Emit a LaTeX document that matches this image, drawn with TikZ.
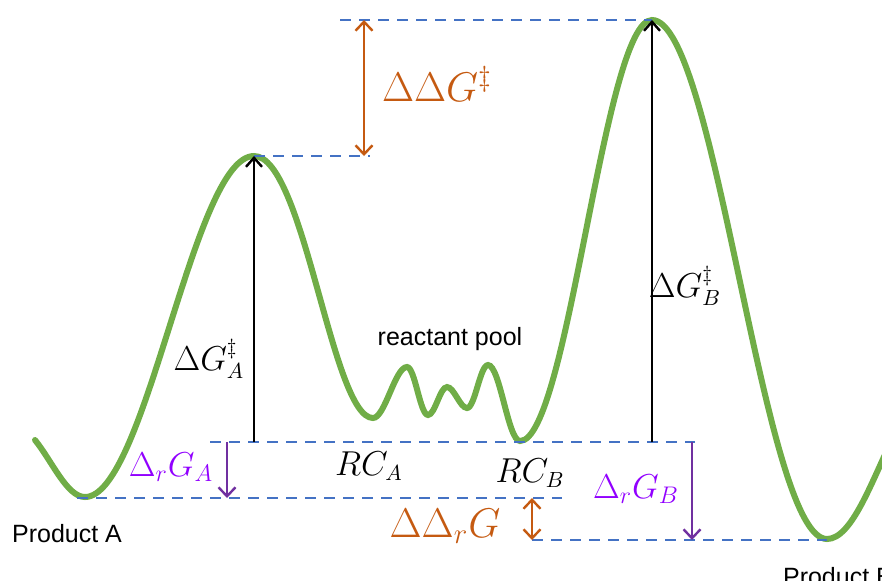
\documentclass[tikz,border=0pt]{standalone}
\usepackage{amsmath, amssymb}
\usepackage{fontspec}
\newfontfamily\labelfont{Liberation Sans}
\usepackage{tikz}
\usetikzlibrary{arrows.meta, calc}

\definecolor{pathgreen}{HTML}{70AD47}
\definecolor{levelblue}{HTML}{4472C4}
\definecolor{ddorange}{HTML}{C55A11}
\definecolor{drpurple}{HTML}{7030A0}
\definecolor{drtext}{HTML}{9100FF}

\begin{document}
\begin{tikzpicture}[x=0.5pt, y=-0.5pt,
  level/.style={levelblue, line width=1.3pt, dash pattern=on 5.5pt off 4pt},
  barrier/.style={black, line width=1.2pt, -{Straight Barb[length=4.5pt,width=8pt]}},
  ddarrow/.style={ddorange, line width=1.2pt, {Straight Barb[length=4.5pt,width=8.5pt]}-{Straight Barb[length=4.5pt,width=8.5pt]}},
  drarrow/.style={drpurple, line width=1.2pt, -{Straight Barb[length=4.5pt,width=8.5pt]}},
  species/.style={font=\labelfont\fontsize{12.5}{15}\selectfont}]
\useasboundingbox (0,0) rectangle (882,580);

% stationary points
\coordinate (prodA) at (85,497);
\coordinate (tsA) at (254,156);
\coordinate (poolL) at (373,418);
\coordinate (rcB) at (520,441);
\coordinate (tsB) at (652,20);
\coordinate (prodB) at (827,539);

% free energy profile
\draw[pathgreen, line width=3pt, line cap=round]
  (35,440) .. controls (52,461) and (67,497) .. (prodA)
  .. controls (146,497) and (193,156) .. (tsA)
  .. controls (304,156) and (332,418) .. (poolL)
  .. controls (385,418) and (395,367) .. (407,367)
  .. controls (415,367) and (420,415) .. (428,415)
  .. controls (435,415) and (440,387) .. (447,387)
  .. controls (454,387) and (460,408) .. (467,408)
  .. controls (475,408) and (480,365) .. (488,365)
  .. controls (500,365) and (508,441) .. (rcB)
  .. controls (568,441) and (604,20) .. (tsB)
  .. controls (716,20) and (763,539) .. (prodB)
  .. controls (852,539) and (872,480) .. (892,440);

% reference levels
\coordinate (topL) at (340,20);
\coordinate (tsAR) at (370,156);
\coordinate (rcL) at (210,442);
\coordinate (rcR) at (695,442);
\coordinate (pAL) at (77,498);
\coordinate (pAR) at (562,498);
\coordinate (pBL) at (532,540);
\coordinate (pBR) at (827,540);
\draw[level] (topL) -- (tsB);
\draw[level] (tsA) -- (tsAR);
\draw[level] (rcL) -- (rcR);
\draw[level] (pAL) -- (pAR);
\draw[level] (pBL) -- (pBR);

% barriers
\coordinate (baseA) at (254,442);
\coordinate (baseB) at (652,442);
\draw[barrier] (baseA) -- (tsA);
\draw[barrier] (baseB) -- (tsB);
\node (dGA) at (209,359) {\fontsize{16}{19}\selectfont$\Delta G^{\ddagger}_{A}$};
\node (dGB) at (685,286) {\fontsize{16}{19}\selectfont$\Delta G^{\ddagger}_{B}$};

% differences
\coordinate (ddTop) at (364,20);
\coordinate (ddBot) at (364,156);
\draw[ddarrow] (ddBot) -- (ddTop);
\node[ddorange] (ddG) at (437,84) {\fontsize{19.5}{23}\selectfont$\Delta\Delta G^{\ddagger}$};
\coordinate (ddrTop) at (532,498);
\coordinate (ddrBot) at (532,540);
\draw[ddarrow] (ddrTop) -- (ddrBot);
\node[ddorange] (ddrG) at (445,526) {\fontsize{21.5}{25}\selectfont$\Delta\Delta_{r}G$};

% reaction free energies
\coordinate (drATop) at (227,442);
\coordinate (drABot) at (227,498);
\draw[drarrow] (drATop) -- (drABot);
\node[drtext] (drGA) at (171,467) {\fontsize{16.5}{19}\selectfont$\Delta_{r}G_{A}$};
\coordinate (drBTop) at (692,442);
\coordinate (drBBot) at (692,540);
\draw[drarrow] (drBTop) -- (drBBot);
\node[drtext] (drGB) at (636,489) {\fontsize{16.5}{19}\selectfont$\Delta_{r}G_{B}$};

% species
\node (rcAlab) at (369,466) {\fontsize{16}{19}\selectfont$RC_{A}$};
\node (rcBlab) at (530,473) {\fontsize{16}{19}\selectfont$RC_{B}$};
\node[species] (pool) at (450,339) {reactant pool};
\node[species] (prodAlab) at (67,534) {Product A};
\node[species, anchor=north west] (prodBlab) at (776,560) {Product B};
\end{tikzpicture}
\end{document}
